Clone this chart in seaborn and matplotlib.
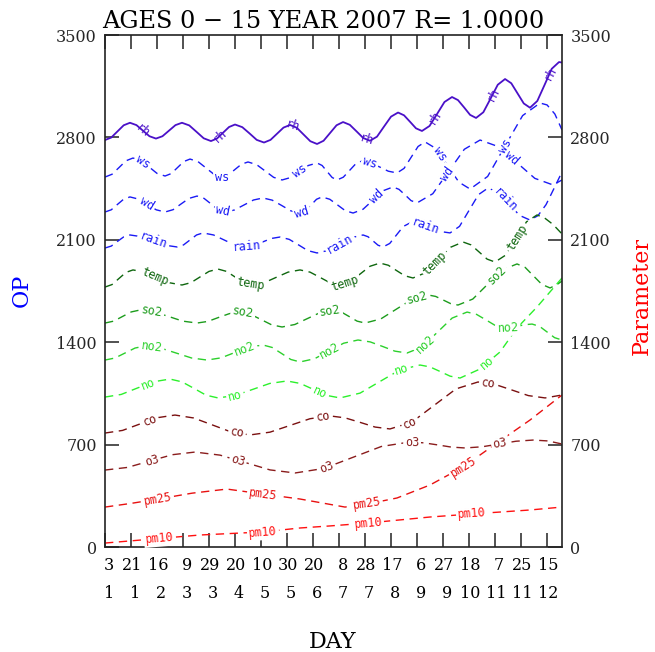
import numpy as np
import matplotlib
matplotlib.use("Agg")
import matplotlib.pyplot as plt
import seaborn as sns
from matplotlib import transforms

# ---------------- data ----------------
tick_days = [3, 21, 16, 9, 29, 20, 10, 30, 20, 8, 28, 17, 6, 27, 18, 7, 25, 15]
tick_months = [1, 1, 2, 3, 3, 4, 5, 5, 6, 7, 7, 8, 9, 9, 10, 11, 11, 12]

rh_x = [0, 4.8, 9.6, 14.4, 19.2, 24.2, 29.2, 34.2, 39.2, 44.2, 49.2, 54.2, 59.2, 64.8, 70.4, 75.9,
        81.5, 86.1, 90.8, 95.4, 100, 105.6, 111.2, 116.7, 122.3, 127.3, 132.3, 137.3, 142.3, 147.5,
        152.7, 157.9, 163.1, 168.1, 173.1, 178.1, 183.1, 188.3, 193.5, 198.6, 203.8, 209.2, 214.6,
        220, 225.4, 230, 234.6, 239.2, 243.8, 249.6, 255.4, 261.1, 266.9, 271.5, 276.2, 280.8, 285.4,
        291, 296.6, 302.1, 307.7, 312.5, 317.3, 322.1, 326.9, 332.5, 338.1, 343.6, 349.2, 351.4]
rh_y = [2782, 2799, 2841, 2883, 2900, 2884, 2846, 2808, 2792, 2808, 2846, 2884, 2900, 2882, 2838, 2794,
        2775, 2792, 2832, 2871, 2888, 2870, 2827, 2783, 2765, 2783, 2825, 2867, 2885, 2866,
        2820, 2774, 2755, 2777, 2830, 2883, 2905, 2886, 2841, 2796, 2777, 2805, 2874,
        2942, 2970, 2951, 2907, 2862, 2844, 2878, 2960, 3042, 3076, 3055, 3005, 2954, 2933,
        2972, 3066, 3160, 3199, 3170, 3101, 3032, 3003, 3049, 3159, 3269, 3315, 3312]

ws_x = [0, 5.4, 10.8, 16.1, 21.5, 27.7, 33.9, 40.0, 46.2, 51.0, 55.8, 60.6, 65.4, 71.6, 77.7, 83.9,
        90.0, 95, 100, 105, 110, 116.6, 123.1, 129.7, 136.2, 142.9, 149.7, 156.4, 163.1, 167, 170.8,
        174.7, 178.5, 183.3, 188.1, 192.9, 197.7, 204.4, 211.2, 217.9, 224.6, 230, 235.4, 240.8,
        246.2, 254.9, 263.5, 272.2, 280.8, 294.3, 307.7, 321.2, 334.6, 340, 346, 351.5]
ws_y = [2529, 2548, 2594, 2640, 2659, 2641, 2598, 2554, 2536, 2553, 2594, 2635, 2652, 2634, 2591, 2547,
        2529, 2544, 2581, 2617, 2632, 2614, 2571, 2527, 2509, 2526, 2567, 2608, 2625, 2608, 2567,
        2526, 2509, 2528, 2574, 2620, 2639, 2627, 2598, 2569, 2557, 2588, 2663, 2738,
        2769, 2722, 2608, 2494, 2447, 2533, 2741, 2949, 3035, 3022, 2960, 2851]

wd_x = [0, 4.8, 9.6, 14.4, 19.2, 25.9, 32.7, 39.4, 46.2, 52.4, 58.5, 64.6, 70.8, 76.2, 81.6, 86.9,
        92.3, 99.6, 106.9, 114.2, 121.5, 128.6, 135.8, 142.9, 150, 154.2, 158.5, 162.7, 166.9, 172.9,
        178.9, 184.8, 190.8, 198.5, 206.2, 213.8, 221.5, 226.1, 230.8, 235.4, 240, 252.1, 264.3,
        276.4, 288.5, 302.5, 316.6, 330.6, 344.6, 351.5]
wd_y = [2290, 2305, 2342, 2378, 2393, 2378, 2342, 2305, 2290, 2306, 2345, 2383, 2399, 2383, 2345, 2306,
        2290, 2304, 2338, 2372, 2386, 2371, 2335, 2298, 2283, 2299, 2338, 2377, 2393, 2377,
        2338, 2299, 2283, 2309, 2372, 2435, 2461, 2445, 2407, 2368, 2352, 2415, 2567,
        2719, 2782, 2737, 2629, 2520, 2475, 2509]

rain_x = [0, 4.8, 9.6, 14.4, 19.2, 28.3, 37.3, 46.3, 55.4, 60.4, 65.4, 70.4, 75.4, 83.5, 91.6, 99.6,
          107.7, 114.4, 121.2, 127.9, 134.6, 141.7, 148.9, 156, 163.1, 172, 180.8, 189.7, 198.5,
          202.3, 206.2, 210, 213.8, 219, 224.2, 229.4, 234.6, 242.3, 250, 257.7, 265.4, 272.7, 280,
          287.3, 294.6, 302.7, 310.8, 318.8, 326.9, 333, 339.2, 345.3, 351.5]
rain_y = [2044, 2057, 2089, 2120, 2133, 2121, 2092, 2063, 2051, 2065, 2099, 2133, 2147, 2133, 2099, 2065,
          2051, 2061, 2085, 2109, 2119, 2103, 2065, 2026, 2010, 2028, 2072, 2115, 2133,
          2121, 2092, 2063, 2051, 2075, 2133, 2191, 2215, 2205, 2181, 2157, 2147, 2192, 2301,
          2409, 2454, 2422, 2345, 2267, 2235, 2265, 2340, 2450, 2564]

temp_x = [0, 5.4, 10.8, 16.1, 21.5, 30.9, 40.4, 49.8, 59.2, 66.1, 73.1, 80, 86.9, 93.5, 100, 106.6,
          113.1, 122.3, 131.6, 140.8, 150, 157.7, 165.4, 173.1, 180.8, 188.5, 196.2, 203.8, 211.5,
          217.9, 224.2, 230.6, 236.9, 246.5, 256.2, 265.8, 275.4, 281.6, 287.7, 293.9, 300, 308.1,
          316.2, 324.2, 332.3, 338, 344.6, 351.5]
temp_y = [1777, 1794, 1836, 1877, 1894, 1879, 1843, 1806, 1791, 1807, 1846, 1884, 1900, 1884, 1846, 1807,
          1791, 1806, 1843, 1879, 1894, 1879, 1843, 1806, 1791, 1813, 1866, 1919, 1941,
          1926, 1890, 1854, 1839, 1875, 1962, 2049, 2085, 2065, 2017, 1968, 1948, 1995,
          2109, 2223, 2270, 2250, 2205, 2140]

so2_x = [0, 6.7, 13.5, 20.2, 26.9, 37.9, 48.9, 59.8, 70.8, 79.1, 87.3, 95.6, 103.8, 111.9, 120, 128.1,
         136.2, 146, 155.8, 165.6, 175.4, 181.6, 187.7, 193.9, 200, 212.1, 224.3, 236.4, 248.5, 254.3,
         260, 265.8, 271.5, 282.9, 294.2, 305.6, 316.9, 323.2, 329.6, 336, 342.3, 347, 351.5]
so2_y = [1531, 1544, 1576, 1607, 1620, 1607, 1576, 1544, 1531, 1542, 1569, 1595, 1606, 1591, 1555, 1519,
         1504, 1521, 1562, 1603, 1620, 1607, 1576, 1544, 1531, 1559, 1627, 1695, 1723, 1713,
         1689, 1664, 1654, 1695, 1795, 1894, 1935, 1911, 1853, 1795, 1771, 1790, 1818]

no2_x = [0, 7.7, 15.4, 23.1, 30.8, 42.7, 54.7, 66.6, 78.5, 89.3, 100, 110.8, 121.5, 128.6, 135.8, 142.9,
         150, 161.2, 172.3, 183.5, 194.6, 204, 213.5, 222.9, 232.3, 243.9, 255.4, 267, 278.5, 285.8,
         293.1, 300.4, 307.7, 312.9, 318.1, 323.3, 328.5, 334.3, 340, 345.8, 351.5]
no2_y = [1278, 1292, 1326, 1360, 1374, 1360, 1326, 1292, 1278, 1293, 1330, 1366, 1381, 1364, 1323, 1282,
         1265, 1287, 1340, 1393, 1415, 1402, 1371, 1339, 1326, 1367, 1466, 1565, 1606, 1590,
         1552, 1513, 1497, 1501, 1511, 1520, 1524, 1508, 1470, 1431, 1415]

no_x = [0, 12.5, 25, 37.5, 50, 59.2, 68.5, 77.7, 86.9, 100.2, 113.5, 126.7, 140, 150.2, 160.4, 170.6,
        180.8, 196.2, 211.6, 226.9, 242.3, 250, 257.7, 265.4, 273.1, 288, 303.8, 316.9, 332.3, 351.5]
no_y = [1025, 1043, 1087, 1130, 1148, 1129, 1084, 1038, 1019, 1036, 1077, 1118, 1135, 1118, 1077, 1036,
        1019, 1052, 1132, 1211, 1244, 1231, 1200, 1168, 1155, 1215, 1333, 1497, 1641, 1839]

co_x = [0, 13.5, 26.9, 40.4, 53.8, 68.2, 82.7, 97.1, 111.5, 126.9, 142.3, 157.7, 173.1, 184.6, 196.2,
        207.7, 219.2, 236.1, 253.1, 270, 286.9, 299.8, 312.7, 325.6, 338.5, 351.5]
co_y = [779, 797, 841, 884, 902, 882, 834, 786, 766, 785, 831, 877, 896, 883, 852,
        820, 807, 854, 968, 1081, 1128, 1112, 1074, 1035, 1019, 1039]

o3_x = [0, 17.3, 34.6, 51.9, 69.2, 88.5, 107.7, 126.9, 146.2, 168.3, 190.4, 212.5, 234.6, 245.2, 255.8,
        266.3, 276.9, 290, 303.1, 316.1, 329.2, 340.8, 351.5]
o3_y = [526, 544, 588, 631, 649, 628, 578, 527, 506, 537, 612, 687, 718, 712, 698,
        683, 677, 685, 704, 723, 731, 725, 704]

pm25_x = [0, 20, 40.8, 67, 93.8, 121.5, 150, 184.6, 204, 224.6, 250, 275.4, 301.5, 326.9, 351.5]
pm25_y = [273, 298, 328, 368, 396, 362, 328, 273, 298, 335, 424, 547, 711, 868, 1039]

pm10_x = [0, 73.1, 121.5, 150, 173.1, 202.3, 250, 282.3, 326.9, 351.5]
pm10_y = [27, 82, 103, 130, 144, 164, 205, 226, 253, 273]

series = [
    ("rh", rh_x, rh_y),
    ("ws", ws_x, ws_y),
    ("wd", wd_x, wd_y),
    ("rain", rain_x, rain_y),
    ("temp", temp_x, temp_y),
    ("so2", so2_x, so2_y),
    ("no2", no2_x, no2_y),
    ("no", no_x, no_y),
    ("co", co_x, co_y),
    ("o3", o3_x, o3_y),
    ("pm25", pm25_x, pm25_y),
    ("pm10", pm10_x, pm10_y),
]

label_pos = {
    "rh": [29.2, 88.5, 144.6, 201.5, 253.8, 298.5, 342.3],
    "ws": [29.2, 90, 150, 203.8, 257.7, 307.7],
    "wd": [32.3, 90.8, 151.5, 209.2, 263.1, 313.1],
    "rain": [36.9, 109.2, 180.8, 246.2, 307.7],
    "temp": [38.5, 111.5, 184.6, 253.8, 316.9],
    "so2": [36.2, 106.2, 173.1, 240, 301.5],
    "no2": [36.2, 107.7, 173.1, 246.2, 310],
    "no": [33.1, 100, 165.4, 228.5, 293.8],
    "co": [34.6, 101.5, 167.7, 234.6, 294.6],
    "o3": [36.2, 102.3, 170.8, 236.2, 303.8],
    "pm25": [40.8, 121.5, 201.5, 275.4],
    "pm10": [42.3, 121.5, 202.3, 282.3],
}

colors = {
    "rh": "#4a10c8", "ws": "#1a1af5", "wd": "#1a1af5", "rain": "#1a1af5",
    "temp": "#0e660e", "so2": "#1c9c1c", "no2": "#2cd02c", "no": "#2cf02c",
    "co": "#7a1010", "o3": "#8a1c1c", "pm25": "#e81010", "pm10": "#ff1010",
}

# ---------------- figure ----------------
sns.set_theme(style="white")
plt.rcParams['font.family'] = ['DejaVu Serif']

W, H = 655, 652
fig = plt.figure(figsize=(W / 100, H / 100), dpi=100)
ax = fig.add_axes([105 / W, 105 / H, 457 / W, 512 / H])

XMAX = 351.5
ax.set_xlim(0, XMAX)
ax.set_ylim(0, 3500)

for name, xs, ys in series:
    sns.lineplot(x=xs, y=ys, ax=ax, color=colors[name], linewidth=1.0 if name != "rh" else 1.3,
                 sort=False, estimator=None)
    line = ax.lines[-1]
    if name != "rh":
        line.set_dashes((6, 4))

fig.canvas.draw()
for name, xs, ys in series:
    for lx in label_pos[name]:
        ly = np.interp(lx, xs, ys)
        p0 = ax.transData.transform((lx - 3, np.interp(lx - 3, xs, ys)))
        p1 = ax.transData.transform((lx + 3, np.interp(lx + 3, xs, ys)))
        ang = np.degrees(np.arctan2(p1[1] - p0[1], p1[0] - p0[0]))
        kw = {}
        if name != "rh":
            kw["bbox"] = dict(boxstyle="square,pad=0.15", fc="white", ec="none")
        ax.text(lx, ly, name, rotation=ang, rotation_mode="anchor", ha="center", va="center",
                color=colors[name], fontsize=8.5, family="DejaVu Sans Mono", zorder=5, **kw)

# axes styling
for s in ax.spines.values():
    s.set_color("#222222")
    s.set_linewidth(1.2)
ax.set_yticks([0, 700, 1400, 2100, 2800, 3500])
ax.set_yticklabels(["0", "700", "1400", "2100", "2800", "3500"])
ax.tick_params(axis="y", which="major", direction="in", length=10, width=1.2, color="#333333",
               left=True, right=True, labelleft=True, labelright=True, labelsize=11.5, pad=6)
xt = [20 * i for i in range(len(tick_days))]
ax.set_xticks(xt)
ax.set_xticklabels([])
ax.tick_params(axis="x", which="major", direction="in", length=10, width=1.2, color="#333333",
               bottom=True, top=True)

trans = transforms.blended_transform_factory(ax.transData, ax.transAxes)
for xv, d, m in zip(xt, tick_days, tick_months):
    for txt, dy in ((str(d), -19), (str(m), -46)):
        dx = 4 if len(txt) == 1 else 1
        t = transforms.offset_copy(trans, fig=fig, x=dx, y=dy, units="dots")
        ax.text(xv, 0, txt, transform=t, ha="center", va="center", fontsize=11.5, color="black")

fig.text(323 / W, 1 - 21 / H, "AGES 0 \u2212 15 YEAR 2007 R= 1.0000", fontsize=17.3,
         ha="center", va="center", color="black")
fig.text(22 / W, 1 - 290 / H, "OP", rotation=90, color="blue", fontsize=16, ha="center", va="center")
fig.text(642 / W, 1 - 296 / H, "Parameter", rotation=90, color="red", fontsize=16, ha="center", va="center")
fig.text(333 / W, 1 - 642 / H, "DAY", color="black", fontsize=16, ha="center", va="center")

fig.savefig("out.png", dpi=100)
